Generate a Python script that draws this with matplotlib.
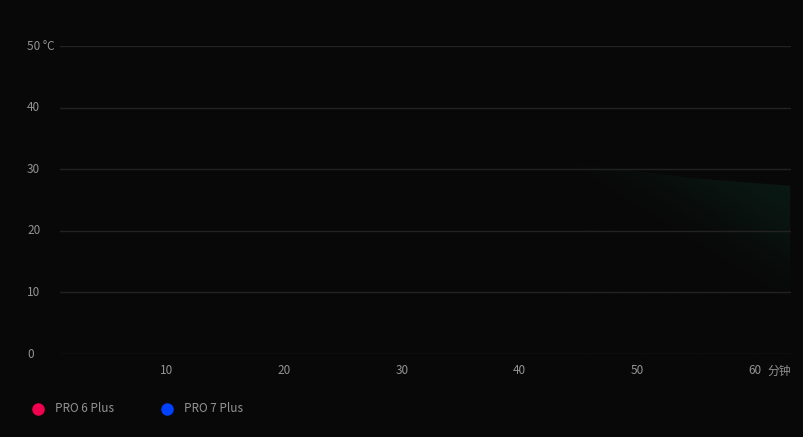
import numpy as np
import matplotlib
matplotlib.use("Agg")
import matplotlib.pyplot as plt
from matplotlib.patches import Polygon

plt.rcParams['font.family'] = ['Noto Sans CJK SC', 'DejaVu Sans']

# data
x_ticks = [10, 20, 30, 40, 50, 60]
y_ticks = [0, 10, 20, 30, 40, 50]
y_labels = ['0', '10', '20', '30', '40', '50 °C']
series_names = ['PRO 6 Plus', 'PRO 7 Plus']
series_colors = ['#f0004f', '#0040ff']
# faint green area visible on the right (the lines themselves are not drawn)
area_x = [44, 49, 54, 59, 63]
area_y = [31.2, 29.9, 28.7, 27.9, 27.3]

bg = '#080808'
grid_c = '#222222'
text_c = '#939393'

W, H = 804, 437
fig = plt.figure(figsize=(W / 100, H / 100), dpi=100, facecolor=bg)
ax = fig.add_axes([60 / W, (H - 354) / H, 731 / W, 308 / H], facecolor=bg)

x0 = (60 - 49.4) / 11.76
x1 = (791 - 49.4) / 11.76
ax.set_xlim(x0, x1)
ax.set_ylim(0, 50)

for v in y_ticks:
    ax.axhline(v, color=grid_c, lw=1, zorder=3)

# gradient area, fading towards the lower left
verts = list(zip(area_x, area_y)) + [(area_x[-1], 0), (area_x[0], 0)]
poly = Polygon(verts, closed=True, facecolor='none', edgecolor='none')
ax.add_patch(poly)
gx = np.linspace(area_x[0], area_x[-1], 300)
gy = np.linspace(0, 32, 300)
GX, GY = np.meshgrid(gx, gy)
u = (GX - area_x[0]) / (area_x[-1] - area_x[0])
yf = GY / 30.0
t = np.clip((0.74 * u + yf - 0.92) / 0.8, 0, 1)
t = t * t * (3 - 2 * t)
base = np.array([8, 8, 8]) / 255
top = np.array([10, 25, 19]) / 255
img = base + (top - base) * t[..., None]
im = ax.imshow(img, extent=[gx[0], gx[-1], gy[0], gy[-1]], origin='lower',
               aspect='auto', zorder=2, interpolation='bilinear')
im.set_clip_path(poly)

ax.set_xticks([])
ax.set_yticks([])
for s in ax.spines.values():
    s.set_visible(False)

# y labels
for v, lab in zip(y_ticks, y_labels):
    fig.text(27 / W, 1 - (354 - v * 6.16) / H, lab, color=text_c, fontsize=8.5,
             ha='left', va='center')

# x labels
for v in x_ticks:
    ax.text(v, -2.7, str(v), color=text_c, fontsize=8.5, ha='center', va='center',
            clip_on=False)
fig.text(767 / W, 1 - 371 / H, '分钟', color=text_c, fontsize=8.5,
         ha='left', va='center')

# legend
for i, (name, c) in enumerate(zip(series_names, series_colors)):
    cx = 38 + i * 129
    fig.lines.append(plt.Line2D([cx / W], [1 - 409 / H], marker='o', markersize=8,
                                color=c, transform=fig.transFigure, linestyle='none'))
    fig.text((cx + 17) / W, 1 - 409 / H, name, color=text_c, fontsize=8.5,
             ha='left', va='center')

fig.savefig('out.png', dpi=100, facecolor=bg)
